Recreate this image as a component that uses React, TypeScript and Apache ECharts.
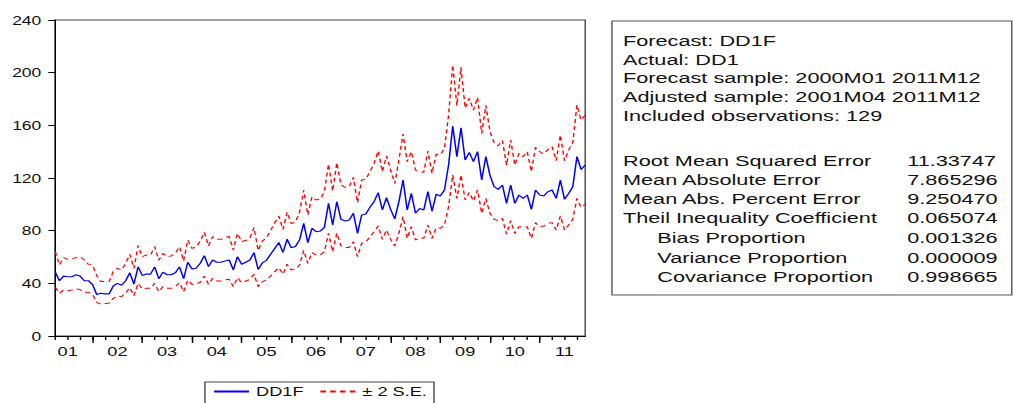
import React, { useEffect, useRef } from "react";
import * as echarts from "echarts";

// ---- data ----
const START_YEAR = 2001;
const START_MONTH = 4;
const N_OBS = 129;
const months: string[] = [];
for (let k = 0; k < N_OBS; k++) {
  const m0 = START_MONTH - 1 + k;
  const y = START_YEAR + Math.floor(m0 / 12);
  const m = (m0 % 12) + 1;
  months.push(`${y}M${String(m).padStart(2, "0")}`);
}

const forecastDD1F: number[] = [
  48.5, 42, 45.5, 45, 45, 46.5, 45.5, 42, 42, 39,
  31.5, 32.5, 32, 32, 38, 40, 38.5, 42, 48, 39.5,
  52.5, 46, 47, 47, 52.5, 43.5, 48.5, 46.5, 46.5, 48,
  52.5, 43.5, 56, 51, 51.4, 55.2, 61, 52.7, 57.7, 56,
  56, 57, 57.7, 50.2, 60.3, 54.5, 56, 57.7, 63.3, 50.5,
  55.5, 57.5, 62, 66.5, 71, 63.5, 73.5, 67, 68, 73,
  85.6, 70.9, 81.8, 79.2, 79.7, 82.5, 100.8, 84.3, 102, 88.6,
  87.3, 88.1, 93.2, 78, 91.9, 92.7, 97.7, 102, 108.9, 95.7,
  105, 96.2, 88.9, 102, 118.5, 95.7, 108.3, 93.2, 96.9, 95.7,
  109.6, 94.9, 107.6, 106.3, 110.9, 129.9, 159.5, 136.2, 158.2, 133.7,
  139.5, 132.4, 140, 118.5, 136.2, 122, 113.4, 111.4, 114.7, 100.7,
  114.7, 100.7, 107.1, 104.5, 107.1, 96.2, 110.9, 107.1, 106.3, 109.6,
  110.9, 104.5, 118.4, 103.8, 108.3, 113.4, 136.2, 126.5, 129.8,
];

const upperBand: number[] = [
  64, 54, 59.5, 58.2, 58.5, 59.5, 60.3, 57.7, 54.4, 53.9,
  46, 41.3, 41.3, 41.3, 48.9, 51.4, 50.1, 55.2, 62, 51.4,
  68.6, 60.3, 61.5, 61.5, 67.8, 57.5, 62.8, 60.3, 60.8, 62.8,
  67.8, 57, 72.9, 66.6, 67.5, 72, 78.8, 68.4, 75.5, 73.4,
  73.4, 74.7, 75.5, 65.3, 78, 71.7, 72.5, 74.5, 82.3, 65,
  72, 74.5, 80, 86, 91, 81, 94, 85.5, 86.5, 94,
  110.9, 91.9, 105.8, 103.3, 104, 109.6, 130.6, 110.1, 131.6, 114.7,
  112.9, 113.4, 120.5, 101.3, 118.5, 119, 124.8, 131.1, 140.5, 124.8,
  136.7, 126.1, 115.9, 133.7, 153.4, 132.4, 140, 126.1, 124.8, 124.3,
  140.5, 123.5, 138, 137.5, 142.5, 167.8, 205.8, 175, 204, 173,
  180.5, 171.6, 181.2, 153.9, 175.2, 155.2, 146.8, 144.4, 148.5, 129.8,
  148.8, 129.8, 138.7, 136.2, 140, 124.8, 143.3, 140, 138.2, 141.7,
  143.8, 133.1, 152.6, 133.1, 141.2, 146.8, 175.4, 164, 167.8,
];

const lowerBand: number[] = [
  37, 32.4, 35, 34.4, 35, 35.7, 35.3, 33.2, 33.2, 31.6,
  25.6, 24.1, 24.6, 24.8, 28.6, 30.4, 29.9, 32.4, 36.7, 30.6,
  40, 35.7, 36.2, 36.2, 40, 33.7, 37.5, 36.2, 36.2, 37.5,
  40.5, 33.7, 42.5, 39.2, 39.5, 40.8, 45.5, 39.3, 43.8, 41.8,
  41.8, 42.6, 43.1, 37.5, 44.3, 40.5, 41.8, 43.1, 46.9, 37.5,
  41.3, 42.6, 45.6, 48.9, 51.9, 46.9, 54.5, 50.2, 50.7, 53.9,
  65, 55.2, 63.3, 61.5, 61.5, 64, 78, 64, 78, 68.4,
  67.1, 67.3, 71.6, 60.3, 70.4, 71.1, 75.4, 79.2, 83.5, 73.4,
  80.5, 73.4, 68.4, 78, 90.6, 74.2, 83, 72.9, 74.7, 74.2,
  84.3, 74.2, 82.3, 81.8, 84.3, 98.2, 122.3, 104.5, 122.3, 103.3,
  109.1, 102.5, 110.9, 93.1, 104.5, 93.1, 88.6, 87.6, 89.3, 77.4,
  87.6, 77.9, 83, 82.5, 83, 74.1, 86.1, 83, 83.5, 85.5,
  86.1, 80.5, 91.1, 80.5, 84.3, 88.6, 104.5, 97.7, 100.2,
];

const headerLines: string[] = [
  "Forecast: DD1F",
  "Actual: DD1",
  "Forecast sample: 2000M01 2011M12",
  "Adjusted sample: 2001M04 2011M12",
  "Included observations: 129",
];
const statNames: string[] = [
  "Root Mean Squared Error",
  "Mean Absolute Error",
  "Mean Abs. Percent Error",
  "Theil Inequality Coefficient",
  "Bias Proportion",
  "Variance Proportion",
  "Covariance Proportion",
];
const statValues: string[] = [
  "11.33747", "7.865296", "9.250470", "0.065074", "0.001326", "0.000009", "0.998665",
];
const statIndented: boolean[] = [false, false, false, false, true, true, true];

const SERIES_FORECAST = "DD1F";
const SERIES_SE = "± 2 S.E.";

// ---- layout (the source image is horizontally stretched) ----
const STRETCH = 1.4;
const PAGE_W = 1013;
const PAGE_H = 403;
const W = PAGE_W / STRETCH;
const FONT = "'Liberation Sans', Arial, Helvetica, sans-serif";

const headerY = [40.7, 59.3, 78, 96.7, 115.3];
const statY = [160.7, 179.3, 198.7, 217.3, 237.3, 257.3, 276.7];

export default function App() {
  const ref = useRef<HTMLDivElement>(null);

  useEffect(() => {
    document.body.style.margin = "0";
    if (!ref.current) return;
    const chart = echarts.init(ref.current, null, { renderer: "svg" });

    const monthOf = (v: string) => parseInt(v.slice(5, 7), 10);

    const textBase = { fontFamily: FONT, fontSize: 15.5, fill: "#111" };
    const graphics: any[] = [
      {
        type: "rect",
        shape: { x: 437.1, y: 21, width: 285.6, height: 274 },
        style: { fill: "#fff", stroke: "#555", lineWidth: 1 },
        z: 0,
      },
    ];
    headerLines.forEach((t, k) => {
      graphics.push({
        type: "text",
        x: 445,
        y: headerY[k],
        style: { ...textBase, text: t, verticalAlign: "middle", align: "left" },
      });
    });
    statNames.forEach((t, k) => {
      graphics.push({
        type: "text",
        x: statIndented[k] ? 469.5 : 445,
        y: statY[k],
        style: { ...textBase, text: t, verticalAlign: "middle", align: "left" },
      });
      graphics.push({
        type: "text",
        x: 648,
        y: statY[k],
        style: { ...textBase, text: statValues[k], verticalAlign: "middle", align: "left" },
      });
    });

    const option: any = {
      animation: false,
      backgroundColor: "#fff",
      textStyle: { fontFamily: FONT },
      grid: {
        left: 39.5,
        top: 20,
        width: 378.5,
        height: 316,
        show: true,
        borderColor: "#444",
        borderWidth: 1,
        backgroundColor: "transparent",
      },
      legend: {
        left: 146.4,
        top: 382,
        data: [SERIES_FORECAST, SERIES_SE],
        itemWidth: 25,
        itemHeight: 14,
        itemGap: 11,
        padding: [3, 5, 8, 5.5],
        borderColor: "#444",
        borderWidth: 1,
        borderRadius: 0,
        backgroundColor: "#fff",
        itemStyle: { color: "rgba(0,0,0,0)", borderWidth: 0, opacity: 0 },
        textStyle: { fontFamily: FONT, fontSize: 13, color: "#111" },
      },
      xAxis: [
        {
          type: "category",
          data: months,
          boundaryGap: false,
          axisLine: { show: true, lineStyle: { color: "#000", width: 1 } },
          axisTick: {
            show: true,
            length: 4,
            interval: (_i: number, v: string) => (monthOf(v) - 1) % 3 === 0,
            lineStyle: { color: "#000" },
          },
          axisLabel: {
            interval: (_i: number, v: string) => monthOf(v) === 7,
            formatter: (v: string) => v.slice(2, 4),
            fontFamily: FONT,
            fontSize: 13,
            color: "#111",
            margin: 9,
          },
          splitLine: { show: false },
        },
        {
          type: "category",
          data: months,
          boundaryGap: false,
          position: "bottom",
          axisLine: { show: false },
          axisTick: {
            show: true,
            length: 7,
            interval: (_i: number, v: string) => monthOf(v) === 1,
            lineStyle: { color: "#000" },
          },
          axisLabel: { show: false },
          splitLine: { show: false },
        },
      ],
      yAxis: {
        type: "value",
        min: 0,
        max: 240,
        interval: 40,
        axisLine: { show: true, lineStyle: { color: "#000", width: 1 } },
        axisTick: { show: true, length: 5, lineStyle: { color: "#000" } },
        axisLabel: { fontFamily: FONT, fontSize: 12.5, color: "#111", margin: 10 },
        splitLine: { show: false },
      },
      series: [
        {
          name: SERIES_SE,
          type: "line",
          data: upperBand,
          symbol: "none",
          lineStyle: { color: "#ff0000", width: 1, type: [4, 3] },
          itemStyle: { color: "#ff0000" },
          z: 2,
        },
        {
          name: SERIES_SE,
          type: "line",
          data: lowerBand,
          symbol: "none",
          lineStyle: { color: "#ff0000", width: 1, type: [4, 3] },
          itemStyle: { color: "#ff0000" },
          z: 2,
        },
        {
          name: SERIES_FORECAST,
          type: "line",
          data: forecastDD1F,
          symbol: "none",
          lineStyle: { color: "#0000ff", width: 1.1 },
          itemStyle: { color: "#0000ff" },
          z: 3,
        },
      ],
      graphic: graphics,
    };

    chart.setOption(option);
    return () => chart.dispose();
  }, []);

  return (
    <div
      style={{
        position: "absolute",
        left: 0,
        top: 0,
        width: PAGE_W,
        height: PAGE_H,
        overflow: "hidden",
        background: "#fff",
      }}
    >
      <div
        ref={ref}
        style={{
          width: W,
          height: PAGE_H,
          transform: `scaleX(${STRETCH})`,
          transformOrigin: "0 0",
        }}
      />
    </div>
  );
}
